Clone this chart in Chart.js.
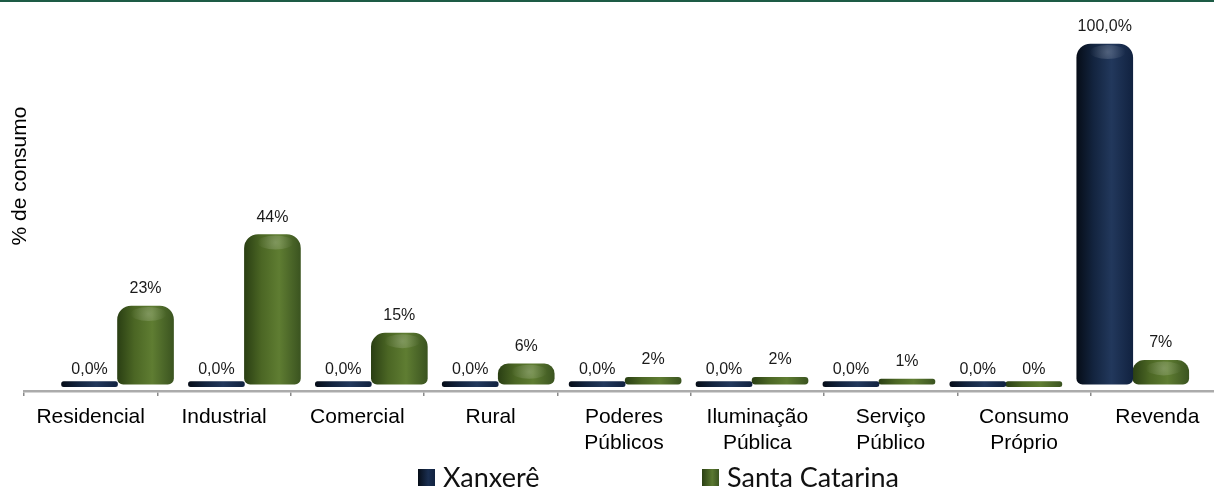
<!DOCTYPE html>
<html lang="pt-BR">
<head>
<meta charset="utf-8">
<title>Consumo por classe</title>
<script src="https://cdn.jsdelivr.net/npm/chart.js@4.4.1/dist/chart.umd.min.js"></script>
<style>
  html, body { margin: 0; padding: 0; background: #fff; }
  #wrap { position: relative; width: 1214px; height: 491px; overflow: hidden; }
  #topline { position: absolute; left: 0; top: 0; width: 100%; height: 2px; background: #1d5b45; z-index: 2; }
  #grafico { position: absolute; left: 0; top: 0; }
  #legenda { position: absolute; left: 0; top: 461px; width: 1214px; font-family: Lato, "Open Sans", sans-serif; font-size: 27px; line-height: 32px; color: #111; }
  #legenda .item { position: absolute; display: flex; align-items: center; white-space: nowrap; }
  #legenda .caixa { width: 17px; height: 17px; margin-right: 8px; }
</style>
</head>
<body>
<div id="wrap">
  <div id="topline"></div>
  <canvas id="grafico" width="1240" height="491"></canvas>
  <div id="legenda"></div>
</div>
<script>
// classes de consumo (rótulos do eixo x)
const categorias = [
  'Residencial', 'Industrial', 'Comercial', 'Rural',
  ['Poderes', 'Públicos'], ['Iluminação', 'Pública'], ['Serviço', 'Público'],
  ['Consumo', 'Próprio'], 'Revenda'
];

// % do consumo por classe
const xanxere = [0, 0, 0, 0, 0, 0, 0, 0, 100];
const santaCatarina = [23, 44, 15, 6, 2, 2, 1, 0, 7];

const rotulosXanxere = xanxere.map(v => v.toFixed(1).replace('.', ',') + '%');
const rotulosSC = santaCatarina.map(v => v + '%');

const LARGURA_BARRA = 56;
const FONTE = '"Liberation Sans", Arial, sans-serif';

// cores do cilindro: borda escura, meio, brilho, borda direita
const azul = ['#060d18', '#13243f', '#22385c', '#112240'];
const verde = ['#2a3f13', '#4b6624', '#5f7d32', '#3b5420'];

function corCilindro(paleta) {
  return (ctx) => {
    const chart = ctx.chart;
    const xs = chart.scales.xb;
    if (ctx.type !== 'data' || !chart.chartArea || !xs) return paleta[1];
    const c = xs.getPixelForValue(ctx.dataIndex) + (ctx.datasetIndex - 0.5) * LARGURA_BARRA;
    const g = chart.ctx.createLinearGradient(c - LARGURA_BARRA / 2, 0, c + LARGURA_BARRA / 2, 0);
    g.addColorStop(0, paleta[0]);
    g.addColorStop(0.3, paleta[1]);
    g.addColorStop(0.62, paleta[2]);
    g.addColorStop(1, paleta[3]);
    return g;
  };
}

// reflexo no topo dos cilindros
const brilho = {
  id: 'brilho',
  afterDatasetsDraw(chart) {
    const { ctx } = chart;
    ctx.save();
    chart.data.datasets.forEach((ds, i) => {
      chart.getDatasetMeta(i).data.forEach((bar) => {
        const h = bar.base - bar.y;
        if (h < 12) return;
        const r = bar.width * 0.32;
        const g = ctx.createRadialGradient(bar.x + 3, bar.y + 8, 0, bar.x + 3, bar.y + 8, r);
        g.addColorStop(0, 'rgba(255,255,255,0.22)');
        g.addColorStop(1, 'rgba(255,255,255,0)');
        ctx.fillStyle = g;
        ctx.beginPath();
        ctx.ellipse(bar.x + 3, bar.y + 8, r, 7, 0, 0, Math.PI * 2);
        ctx.fill();
      });
    });
    ctx.restore();
  }
};

// valores acima das barras
const rotulosValores = {
  id: 'rotulosValores',
  afterDatasetsDraw(chart) {
    const { ctx } = chart;
    ctx.save();
    ctx.font = '16px ' + FONTE;
    ctx.fillStyle = '#1a1a1a';
    ctx.textAlign = 'center';
    ctx.textBaseline = 'alphabetic';
    chart.data.datasets.forEach((ds, i) => {
      chart.getDatasetMeta(i).data.forEach((bar, j) => {
        ctx.fillText(ds.rotulos[j], bar.x, bar.y - 13);
      });
    });
    ctx.restore();
  }
};

// título do eixo y, girado
const tituloEixoY = {
  id: 'tituloEixoY',
  afterDraw(chart) {
    const { ctx } = chart;
    ctx.save();
    ctx.translate(20, 176);
    ctx.rotate(-Math.PI / 2);
    ctx.font = '21px ' + FONTE;
    ctx.fillStyle = '#000';
    ctx.textAlign = 'center';
    ctx.textBaseline = 'middle';
    ctx.fillText('% de consumo', 0, 0);
    ctx.restore();
  }
};

new Chart(document.getElementById('grafico'), {
  type: 'bar',
  data: {
    labels: categorias,
    datasets: [
      {
        label: 'Xanxerê',
        data: xanxere.map((v, i) => ({ x: i, y: v })),
        rotulos: rotulosXanxere,
        xAxisID: 'xb',
        backgroundColor: corCilindro(azul)
      },
      {
        label: 'Santa Catarina',
        data: santaCatarina.map((v, i) => ({ x: i, y: v })),
        rotulos: rotulosSC,
        xAxisID: 'xb',
        backgroundColor: corCilindro(verde)
      }
    ]
  },
  options: {
    responsive: false,
    devicePixelRatio: 1,
    animation: false,
    layout: { padding: { top: 10, right: 16, bottom: 0, left: 24 } },
    datasets: {
      bar: {
        barThickness: LARGURA_BARRA,
        minBarLength: 5,
        borderSkipped: false,
        borderRadius: { topLeft: 14, topRight: 14, bottomLeft: 6, bottomRight: 6 },
        clip: false
      }
    },
    scales: {
      x: {
        type: 'category',
        offset: true,
        grid: { offset: true, drawOnChartArea: false, tickLength: 5, color: '#8a8a8a', lineWidth: 1.5 },
        border: { color: '#ababab', width: 2.5 },
        ticks: { color: '#000', font: { family: FONTE, size: 21 }, padding: 9, maxRotation: 0, autoSkip: false },
        afterFit(s) { s.height = 100; }
      },
      // eixo oculto que posiciona os pares de barras
      xb: { type: 'linear', display: false, offset: false, min: -0.737, max: 8.719 },
      y: { display: false, min: -2, max: 110 }
    },
    plugins: {
      legend: { display: false },
      tooltip: { enabled: false }
    }
  },
  plugins: [brilho, rotulosValores, tituloEixoY]
});

// legenda
const itensLegenda = [
  { nome: 'Xanxerê', cor: 'linear-gradient(90deg,#060d18,#1a2e50 60%,#112240)', x: 418 },
  { nome: 'Santa Catarina', cor: 'linear-gradient(90deg,#2a3f13,#5a7830 60%,#3b5420)', x: 702 }
];
const legenda = document.getElementById('legenda');
itensLegenda.forEach(it => {
  const el = document.createElement('div');
  el.className = 'item';
  el.style.left = it.x + 'px';
  el.innerHTML = '<span class="caixa" style="background:' + it.cor + '"></span><span>' + it.nome + '</span>';
  legenda.appendChild(el);
});
</script>
</body>
</html>
